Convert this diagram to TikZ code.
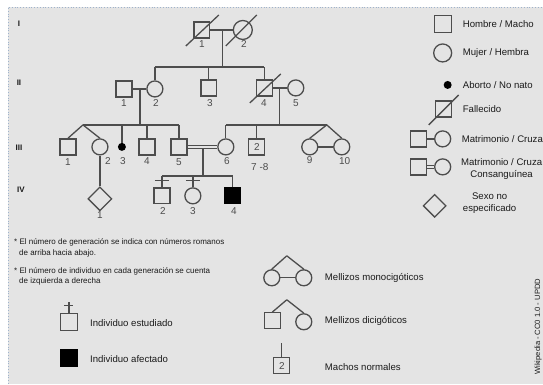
\documentclass[tikz,border=0pt]{standalone}
\usepackage{fontspec}
\setmainfont{Liberation Sans}
\usetikzlibrary{shapes.geometric,calc}
\definecolor{bg}{HTML}{E4E4E4}
\definecolor{lc}{HTML}{4D4D4D}
\definecolor{tc}{HTML}{1A1A1A}
\definecolor{bd}{HTML}{9FB3CC}
\begin{document}
\begin{tikzpicture}[x=1pt,y=-1pt,
  sqr/.style={rectangle,draw=lc,line width=1.3pt,minimum size=16pt,inner sep=0pt},
  crc/.style={circle,draw=lc,line width=1.3pt,minimum size=16pt,inner sep=0pt},
  dia/.style={diamond,draw=lc,line width=1.3pt,minimum width=24pt,minimum height=24pt,inner sep=0pt},
  dot/.style={circle,fill=black,minimum size=8pt,inner sep=0pt},
  aff/.style={rectangle,fill=black,draw=black,line width=1.3pt,minimum size=16pt,inner sep=0pt},
  num/.style={font=\fontsize{10}{12}\selectfont,text=lc,inner sep=0pt},
  gen/.style={font=\bfseries\fontsize{8}{9}\selectfont,text=tc,inner sep=0pt},
  leg/.style={font=\fontsize{9.6}{12}\selectfont,text=tc,anchor=west,inner sep=0pt},
  legc/.style={font=\fontsize{9.6}{12}\selectfont,text=tc,align=center,inner sep=0pt},
  note/.style={font=\fontsize{8}{10}\selectfont,text=tc,anchor=west,inner sep=0pt},
  conn/.style={draw=lc,line width=1.3pt},
  dbl/.style={draw=lc,line width=1pt,double=bg,double distance=2.5pt}]
\fill[white] (0,0) rectangle (543,384);
\fill[bg] (8,7) rectangle (543,384);
\draw[bd,dotted,line width=0.8pt] (8,384) -- (8,7) -- (543,7);
\useasboundingbox (0,0) rectangle (543,384);

% generation labels
\node[gen] (gI) at (19,24) {I};
\node[gen] (gII) at (19,83) {II};
\node[gen] (gIII) at (19,148) {III};
\node[gen] (gIV) at (21,190) {IV};

% Generation I
\node[sqr] (i1) at (202,30) {};
\node[crc,minimum size=19pt] (i2) at (243,30) {};
\draw[conn] ([shift={(-16,16)}]i1.center) -- ([shift={(17,-15)}]i1.center);
\draw[conn] ([shift={(-17,16)}]i2.center) -- ([shift={(14,-15)}]i2.center);
\draw[conn] (i1) -- (i2);
\node[num] (li1) at (202,44) {1};
\node[num] (li2) at (244,44) {2};
\coordinate (m1) at (223,30);
\coordinate (s2L) at (155,67);
\coordinate (s2R) at (264.5,67);
\draw[conn] (m1) -- (m1 |- s2L);
\draw[conn] (s2L) -- (s2R);

% Generation II
\node[sqr] (ii1) at (124,89) {};
\node[crc] (ii2) at (155,89) {};
\node[sqr] (ii3) at (209,88) {};
\node[sqr] (ii4) at (264.5,88) {};
\node[crc] (ii5) at (296,88) {};
\draw[conn] (ii2) -- (ii2 |- s2L);
\draw[conn] (ii3) -- (ii3 |- s2L);
\draw[conn] (ii4) -- (ii4 |- s2L);
\draw[conn] ([shift={(-14.5,15)}]ii4.center) -- ([shift={(16.5,-14)}]ii4.center);
\draw[conn] (ii1) -- (ii2);
\draw[conn] (ii4) -- (ii5);
\node[num] (lii1) at (124,103) {1};
\node[num] (lii2) at (156,103) {2};
\node[num] (lii3) at (210,103) {3};
\node[num] (lii4) at (264,103) {4};
\node[num] (lii5) at (296,103) {5};
\coordinate (m2) at (140,89);
\coordinate (m3) at (280,88);

% Generation III (left family)
\coordinate (s3L) at (83,125);
\coordinate (s3R) at (179,125);
\draw[conn] (m2) -- (m2 |- s3L);
\draw[conn] (s3L) -- (s3R);
\node[sqr] (iii1) at (68,147) {};
\node[crc] (iii2) at (100,147) {};
\node[dot] (iii3) at (122,147) {};
\node[sqr] (iii4) at (147,147) {};
\node[sqr] (iii5) at (179,147) {};
\draw[conn] (s3L) -- (iii1.north);
\draw[conn] (s3L) -- (iii2.north);
\draw[conn] (iii3) -- (iii3 |- s3L);
\draw[conn] (iii4) -- (iii4 |- s3L);
\draw[conn] (iii5) -- (iii5 |- s3L);

% Generation III (right family)
\coordinate (s4L) at (226,125);
\coordinate (s4R) at (327,125);
\draw[conn] (m3) -- (m3 |- s4L);
\draw[conn] (s4L) -- (s4R);
\node[crc] (iii6) at (226,147) {};
\node[sqr,num,minimum size=16pt] (iii7) at (257,147) {2};
\node[crc] (iii9) at (310,147) {};
\node[crc] (iii10) at (342,147) {};
\draw[conn] (iii6) -- (iii6 |- s4L);
\draw[conn] (iii7) -- (iii7 |- s4L);
\draw[conn] (s4R) -- (iii9.north);
\draw[conn] (s4R) -- (iii10.north);
\draw[conn] (iii9) -- (iii10);
\draw[dbl] (iii5) -- (iii6);

\node[num] (liii1) at (68,162) {1};
\node[num] (liii2) at (108,161) {2};
\node[num] (liii3) at (123,161) {3};
\node[num] (liii4) at (147,161) {4};
\node[num] (liii5) at (179,162) {5};
\node[num] (liii6) at (227,161) {6};
\node[num] (liii7) at (260,167) {7 -8};
\node[num] (liii9) at (310,160) {9};
\node[num] (liii10) at (345,161) {10};

% Generation IV
\coordinate (m4) at (203,149);
\coordinate (s5L) at (162,176);
\coordinate (s5R) at (233,176);
\draw[conn] (m4) -- (m4 |- s5L);
\draw[conn] (s5L) -- (s5R);
\node[dia] (iv1) at (100,199) {};
\draw[conn] (iii2) -- (iv1);
\node[sqr] (iv2) at (162,196) {};
\node[crc] (iv3) at (193,196) {};
\node[aff] (iv4) at (233,196) {};
\draw[conn] (iv2) -- (iv2 |- s5L);
\draw[conn] (iv3) -- (iv3 |- s5L);
\draw[conn] (iv4) -- (iv4 |- s5L);
\draw[conn] ($(iv2 |- s5L)+(-7,4.5)$) -- ($(iv2 |- s5L)+(7,4.5)$);
\draw[conn] ($(iv3 |- s5L)+(-7,4.5)$) -- ($(iv3 |- s5L)+(7,4.5)$);
\node[num] (liv1) at (100,215) {1};
\node[num] (liv2) at (163,211) {2};
\node[num] (liv3) at (193,211) {3};
\node[num] (liv4) at (234,211) {4};

% Legend (right)
\node[sqr,minimum size=17pt] (ls1) at (443.5,24) {};
\node[leg] (t1) at (463,24) {Hombre / Macho};
\node[crc,minimum size=18pt] (lc1) at (443,53) {};
\node[leg] (t2) at (463,53) {Mujer / Hembra};
\node[dot] (ld1) at (448,85) {};
\node[leg] (t3) at (463,85) {Aborto / No nato};
\node[sqr,minimum size=16pt] (lf1) at (443.5,109) {};
\draw[conn] ([shift={(-14.5,16)}]lf1.center) -- ([shift={(15.5,-14)}]lf1.center);
\node[leg] (t4) at (463,109) {Fallecido};
\node[sqr] (lm1) at (419,139) {};
\node[crc] (lm2) at (443,139) {};
\draw[conn] (lm1) -- (lm2);
\node[leg] (t5) at (462,139) {Matrimonio / Cruza};
\node[sqr] (lk1) at (419,167) {};
\node[crc] (lk2) at (443,167) {};
\draw[dbl] (lk1) -- (lk2);
\node[legc] (t6) at (502,169.5) {Matrimonio / Cruza\\Consanguínea};
\node[dia,minimum width=23pt,minimum height=23pt] (ldia) at (435,206) {};
\node[legc] (t7) at (490,203.5) {Sexo no\\especificado};

% Notes
\node[note] (n1) at (14,243) {* El número de generación se indica con números romanos};
\node[note] (n1b) at (19,254) {de arriba hacia abajo.};
\node[note] (n2) at (14,272) {* El número de individuo en cada generación se cuenta};
\node[note] (n2b) at (19,282) {de izquierda a derecha};

% Legend (bottom left)
\node[sqr,minimum size=17pt] (le1) at (69,322) {};
\coordinate (le1top) at (69,302);
\draw[conn] (le1) -- (le1top);
\draw[conn] ($(le1top)+(-4.5,4)$) -- ($(le1top)+(4.5,4)$);
\node[leg] (t8) at (90,323) {Individuo estudiado};
\node[aff,minimum size=17pt] (la1) at (69,358) {};
\node[leg] (t9) at (90,359) {Individuo afectado};

% Legend (bottom middle)
\coordinate (ap1) at (287,256);
\node[crc] (mz1) at (272,278) {};
\node[crc] (mz2) at (304,278) {};
\draw[conn] (ap1) -- (mz1.north);
\draw[conn] (ap1) -- (mz2.north);
\draw[conn] (mz1) -- (mz2);
\node[leg] (t10) at (325,278) {Mellizos monocigóticos};
\coordinate (ap2) at (287,300);
\node[sqr] (dz1) at (272.5,321) {};
\node[crc] (dz2) at (304,322) {};
\draw[conn] (ap2) -- (dz1.north);
\draw[conn] (ap2) -- (dz2.north);
\node[leg] (t11) at (325,321) {Mellizos dicigóticos};
\node[sqr,num,minimum size=16pt] (mn1) at (282,366) {2};
\coordinate (mntop) at (282,343);
\draw[conn] (mn1) -- (mntop);
\node[leg] (t12) at (325,367) {Machos normales};

% credit
\node[font=\fontsize{7.6}{9}\selectfont,text=tc,rotate=90,inner sep=0pt] (cr) at (538.5,327) {Wikipedia - CC0 1.0 - UPDD};
\end{tikzpicture}
\end{document}
